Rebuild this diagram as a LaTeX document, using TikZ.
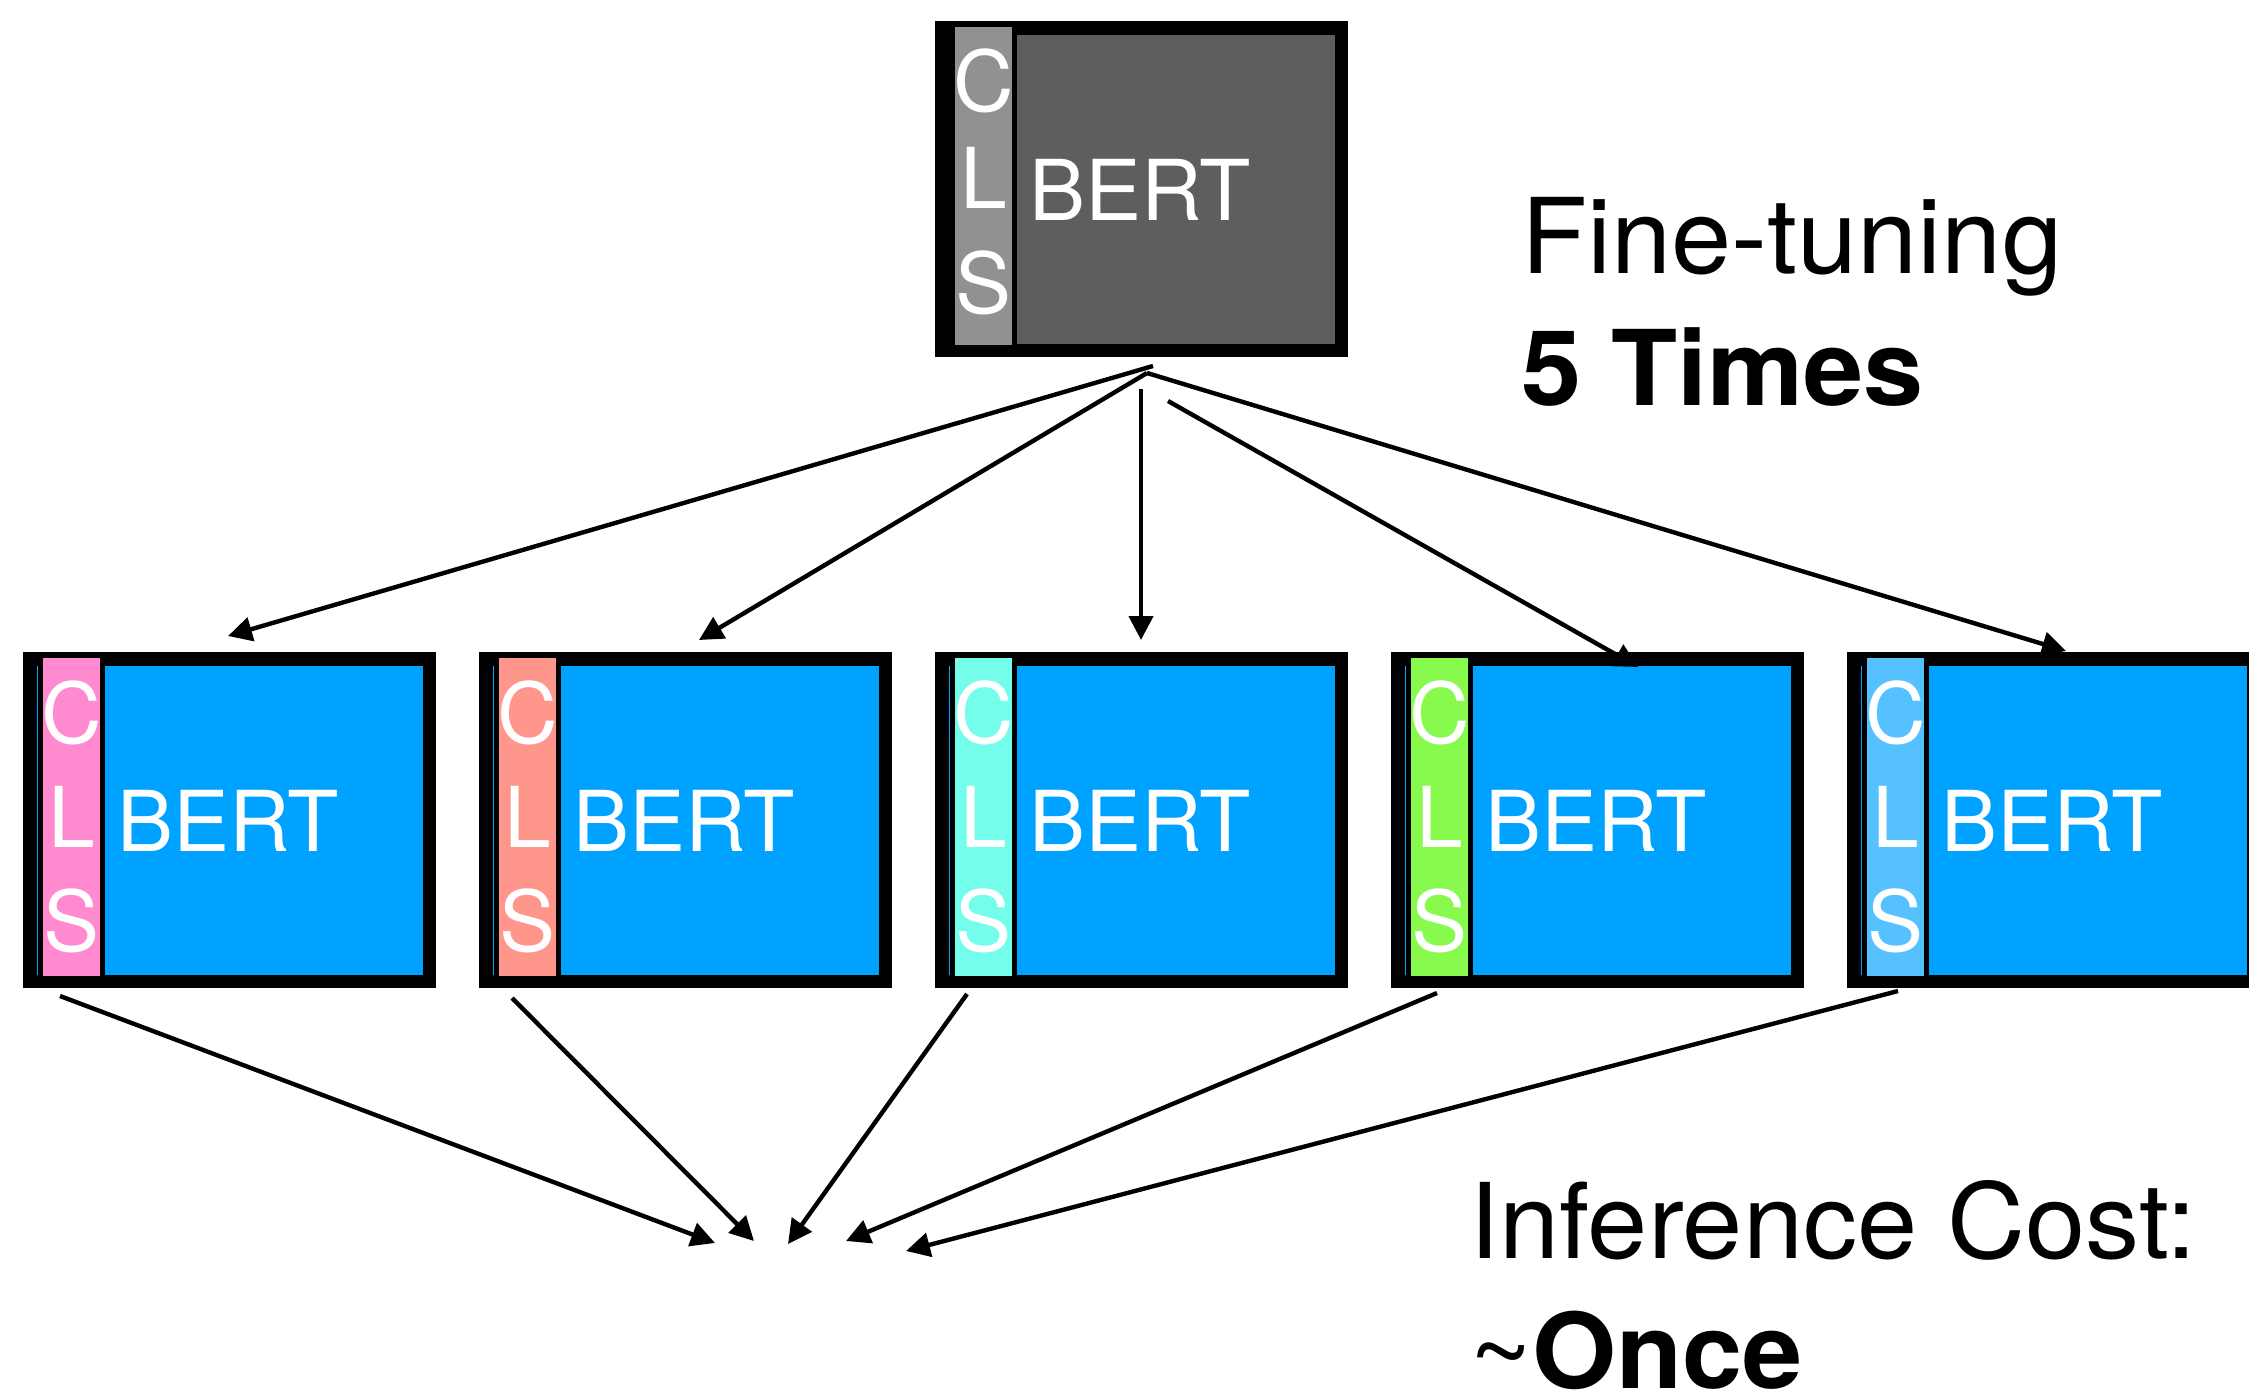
\documentclass[tikz,border=0pt]{standalone}
\usepackage{fontspec}
\setmainfont{TeX Gyre Heros}
\newfontfamily\captionfont[FakeStretch=1.035]{TeX Gyre Heros}
\usetikzlibrary{arrows.meta}

\definecolor{bertblue}{HTML}{00A2FF}
\definecolor{topgray}{HTML}{5E5E5E}
\definecolor{clsgray}{HTML}{919191}
\definecolor{clspink}{HTML}{FF8AD0}
\definecolor{clssalmon}{HTML}{FF968C}
\definecolor{clsteal}{HTML}{73FDEA}
\definecolor{clsgreen}{HTML}{88FA4E}
\definecolor{clssky}{HTML}{56C1FF}

\tikzset{
  outerbox/.style={fill=black, draw=none, minimum width=413pt, minimum height=336pt,
    inner sep=0pt, outer sep=0pt, anchor=north west},
  letter/.style={text=white, font=\fontsize{84pt}{84pt}\selectfont, inner sep=0pt, anchor=base},
  bertlabel/.style={text=white, font=\fontsize{84pt}{84pt}\selectfont, inner sep=0pt, anchor=base west},
  caption/.style={font=\captionfont\fontsize{104.5pt}{104.5pt}\selectfont, inner sep=0pt, anchor=base west},
  conn/.style={line width=4.4pt, -{Triangle[length=24pt,width=24pt]}},
}

% one model block: name, left, top, CLS colour, body colour, baseline of L, baseline of S
\newcommand\bertunit[7]{%
  \node[outerbox] (#1) at (#2,#3) {};
  \fill[#5] ({#2+82},{#3+14}) rectangle ({#2+400},{#3+323});
  \fill[#4] ({#2+20},{#3+6}) rectangle ({#2+77},{#3+324});
  \node[letter] (#1-c) at ({#2+48.5},{#3+91}) {C};
  \node[letter] (#1-l) at ({#2+48.5},{#3+#6}) {L};
  \node[letter] (#1-s) at ({#2+48.5},{#3+#7}) {S};
  \node[bertlabel] (#1-name) at ({#2+94},{#3+199}) {BERT};
}

\begin{document}
\begin{tikzpicture}[x=1pt, y=-1pt]
  \useasboundingbox (0,0) rectangle (2249,1394);
  \clip (0,0) rectangle (2249,1394);

  % pre-trained model
  \bertunit{top}{935}{21}{clsgray}{topgray}{187}{292}

  % five fine-tuned copies
  \bertunit{m1}{23}{652}{clspink}{bertblue}{195}{299}
  \bertunit{m2}{479}{652}{clssalmon}{bertblue}{195}{299}
  \bertunit{m3}{935}{652}{clsteal}{bertblue}{195}{299}
  \bertunit{m4}{1391}{652}{clsgreen}{bertblue}{195}{299}
  \bertunit{m5}{1847}{652}{clssky}{bertblue}{195}{299}
  \foreach \x in {23,479,935,1391,1847}
    \draw[bertblue, line width=1pt] ({\x+14.5},666) -- ({\x+14.5},975);

  % captions
  \node[caption] (ft) at (1521,273) {Fine-tuning};
  \node[caption] (times) at (1521,405) {\bfseries 5 Times};
  \node[caption] (inf) at (1469,1258) {Inference Cost:};
  \node[caption] (once) at (1469,1388) {\textasciitilde\textbf{Once}};

  % fan-out ends
  \coordinate (s1) at (1153,366);
  \coordinate (s2) at (1147,373);
  \coordinate (s3) at (1141,389);
  \coordinate (s4) at (1168,401);
  \coordinate (s5) at (1147,373);
  \coordinate (t1) at (228,636);
  \coordinate (t2) at (699,640);
  \coordinate (t3) at (1141,640);
  \coordinate (t4) at (1638,667);
  \coordinate (t5) at (2066,651);

  % fan-in ends
  \coordinate (b1) at (60,996);
  \coordinate (b2) at (512,998);
  \coordinate (b3) at (967,994);
  \coordinate (b4) at (1437,993);
  \coordinate (b5) at (1898,991);
  \coordinate (e1) at (715,1243);
  \coordinate (e2) at (754,1241);
  \coordinate (e3) at (788,1244);
  \coordinate (e4) at (846,1241);
  \coordinate (e5) at (906,1251);

  \foreach \i in {1,...,5} {
    \draw[conn] (s\i) -- (t\i);
    \draw[conn] (b\i) -- (e\i);
  }
\end{tikzpicture}
\end{document}
